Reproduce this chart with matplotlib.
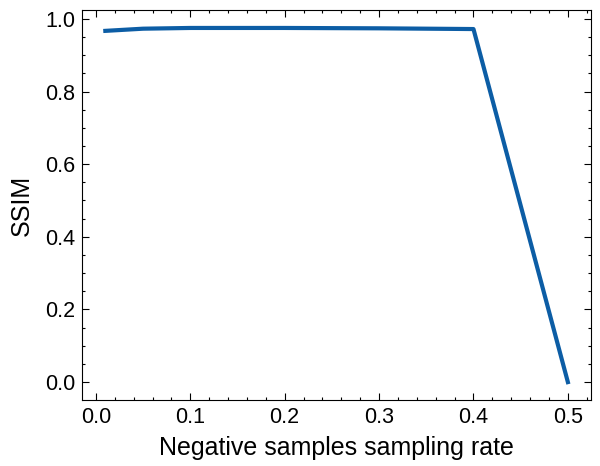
import matplotlib
matplotlib.use('Agg')
import matplotlib.pyplot as plt
from matplotlib.ticker import AutoMinorLocator

rates = [0.01, 0.05, 0.1, 0.2, 0.3, 0.4, 0.5]
ssim = [0.967, 0.973, 0.975, 0.975, 0.974, 0.972, 0.0]

plt.rcParams['font.family'] = 'Liberation Sans'

fig, ax = plt.subplots(figsize=(6, 4.66), dpi=100)
ax.plot(rates, ssim, color='#0C5DA5', lw=3)

ax.set_xlabel('Negative samples sampling rate', fontsize=18, labelpad=6)
ax.set_ylabel('SSIM', fontsize=18, labelpad=8)
ax.xaxis.set_minor_locator(AutoMinorLocator())
ax.yaxis.set_minor_locator(AutoMinorLocator())
ax.tick_params(which='both', direction='in', top=True, right=True, labelsize=15.5, width=0.8)
ax.tick_params(which='major', length=5, pad=5)
ax.tick_params(which='minor', length=2.5)
for s in ax.spines.values():
    s.set_linewidth(0.8)

fig.subplots_adjust(left=0.137, right=0.985, top=0.978, bottom=0.142)
fig.savefig('out.png')
